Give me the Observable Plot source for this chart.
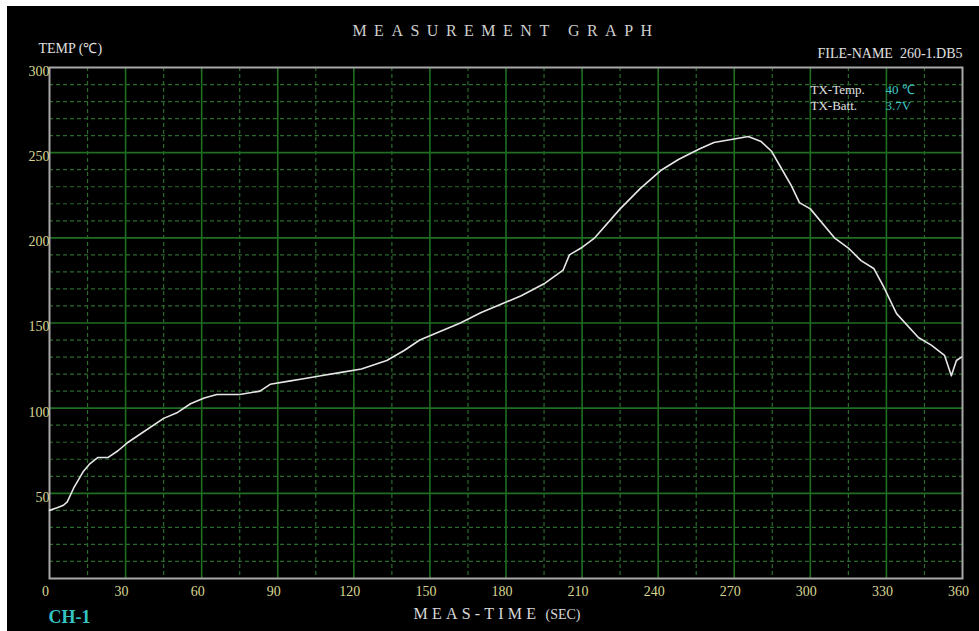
<!DOCTYPE html>
<html>
<head>
<meta charset="utf-8">
<script src="https://cdn.jsdelivr.net/npm/d3@7"></script>
<script src="https://cdn.jsdelivr.net/npm/@observablehq/plot@0.6"></script>
<style>
  html, body { margin: 0; padding: 0; background: #fff; }
  #wrap { position: absolute; left: 7px; top: 6px; width: 972px; height: 625px; background: #000; }
</style>
</head>
<body>
<div id="wrap"></div>
<script>
// ---- data ----
const time = [0,3,5.5,7,9.5,13.4,16,19,23,27,31,37,45,50.5,55.6,61,66,75,83,87,95,99,107,115,123,133,140,146,154,162,170,178,186,195,202.5,205,209.6,215,225,233,241,248,256,262,270,275.5,280.6,284.6,288.5,292.5,295.7,300,309.5,315,320,325,329,334,342.6,347.7,352.9,355.6,357.6,359.6];
const temp = [40,41.5,43,45,53,63,67.5,71,71,75,80,86,94,97.5,102.6,106,108,108,110,114,116,117,119,121,123,128,134,140,145,150,156,161,166,173,181,190,194,200,217,229,239.5,246,252,256,258,259.5,256.5,251,241,230.7,220.7,217,200,194,186.6,182,171,155.5,141.5,137,131,119,128,130];
const xTicks = [0,30,60,90,120,150,180,210,240,270,300,330,360];
const yTicks = [50,100,150,200,250,300];
const xMajor = [30,60,90,120,150,180,210,240,270,300,330];
const xMinor = [15,45,75,105,135,165,195,225,255,285,315,345];
const yMajor = [50,100,150,200,250];
const yMinor = [10,20,30,40,60,70,80,90,110,120,130,140,160,170,180,190,210,220,230,240,260,270,280,290];
const title = "MEASUREMENT GRAPH";
const yTitle = "TEMP (℃)";
const xTitle = "MEAS-TIME";
const xUnit = "(SEC)";
const fileName = "FILE-NAME  260-1.DB5";
const infoLabels = ["TX-Temp.", "TX-Batt."];
const infoValues = ["40 ℃", "3.7V"];
const channel = "CH-1";

const data = time.map((t, i) => ({t, v: temp[i]}));

const grid = "#1f6e22";
const gridDash = "#2a6a2c";
const tickColor = "#d8d690";

const infoMarks = [];
infoLabels.forEach((s, i) => {
  infoMarks.push(Plot.text([s], {frameAnchor: "top-right", text: d => d, dx: -152, dy: 26 + i * 16, textAnchor: "start", lineAnchor: "bottom", fill: "#e0e0e0", fontSize: 13}));
  infoMarks.push(Plot.text([infoValues[i]], {frameAnchor: "top-right", text: d => d, dx: -77, dy: 26 + i * 16, textAnchor: "start", lineAnchor: "bottom", fill: "#3cc8c8", fontSize: 13}));
});

const chart = Plot.plot({
  width: 972, height: 625,
  marginLeft: 42, marginRight: 17, marginTop: 61, marginBottom: 53,
  style: {background: "#000", fontFamily: "'Liberation Serif', serif", fontSize: "14px", color: tickColor},
  x: {domain: [0, 360]},
  y: {domain: [0, 300]},
  marks: [
    Plot.ruleY(yMinor, {stroke: gridDash, strokeWidth: 1.2, strokeDasharray: "4,3"}),
    Plot.ruleX(xMinor, {stroke: gridDash, strokeWidth: 1.2, strokeDasharray: "4,3"}),
    Plot.ruleY(yMajor, {stroke: grid, strokeWidth: 1.6}),
    Plot.ruleX(xMajor, {stroke: grid, strokeWidth: 1.6}),
    Plot.frame({stroke: "#a8a8a8", strokeWidth: 2}),
    Plot.axisX(xTicks, {tickSize: 0, tickPadding: 8, dx: -4, fill: tickColor, fontSize: 14, label: null}),
    Plot.axisY(yTicks, {tickSize: 0, tickPadding: 0, dy: 4, fill: tickColor, fontSize: 14, label: null}),
    Plot.line(data, {x: "t", y: "v", stroke: "#e6e6e6", strokeWidth: 1.6, curve: "linear"}),
    Plot.text([title], {frameAnchor: "top", text: d => d, dx: 0, dy: -32, lineAnchor: "bottom", fill: "#cfcfcf", fontSize: 16}),
    Plot.text([yTitle], {frameAnchor: "top-left", text: d => d, dx: -11, dy: -15, textAnchor: "start", lineAnchor: "bottom", fill: "#e0e0e0", fontSize: 14}),
    Plot.text([fileName], {frameAnchor: "top-right", text: d => d, dx: 0, dy: -10, textAnchor: "end", lineAnchor: "bottom", fill: "#e0e0e0", fontSize: 14}),
    ...infoMarks,
    Plot.text([channel], {frameAnchor: "bottom-left", text: d => d, dx: -1, dy: 44, textAnchor: "start", lineAnchor: "bottom", fill: "#35c4c4", fontSize: 18, fontWeight: "bold"}),
    Plot.text([xTitle], {frameAnchor: "bottom-left", text: d => d, dx: 364, dy: 40, textAnchor: "start", lineAnchor: "bottom", fill: "#d8d8d8", fontSize: 16}),
    Plot.text([xUnit], {frameAnchor: "bottom-left", text: d => d, dx: 496, dy: 40, textAnchor: "start", lineAnchor: "bottom", fill: "#d8d8d8", fontSize: 14})
  ]
});

const svg = d3.select(chart);
svg.selectAll("text").each(function() {
  const s = this.textContent;
  if (s === title) d3.select(this).attr("letter-spacing", 7.5);
  if (s === xTitle) d3.select(this).attr("letter-spacing", 4.2);
});
document.getElementById("wrap").appendChild(chart);
</script>
</body>
</html>
